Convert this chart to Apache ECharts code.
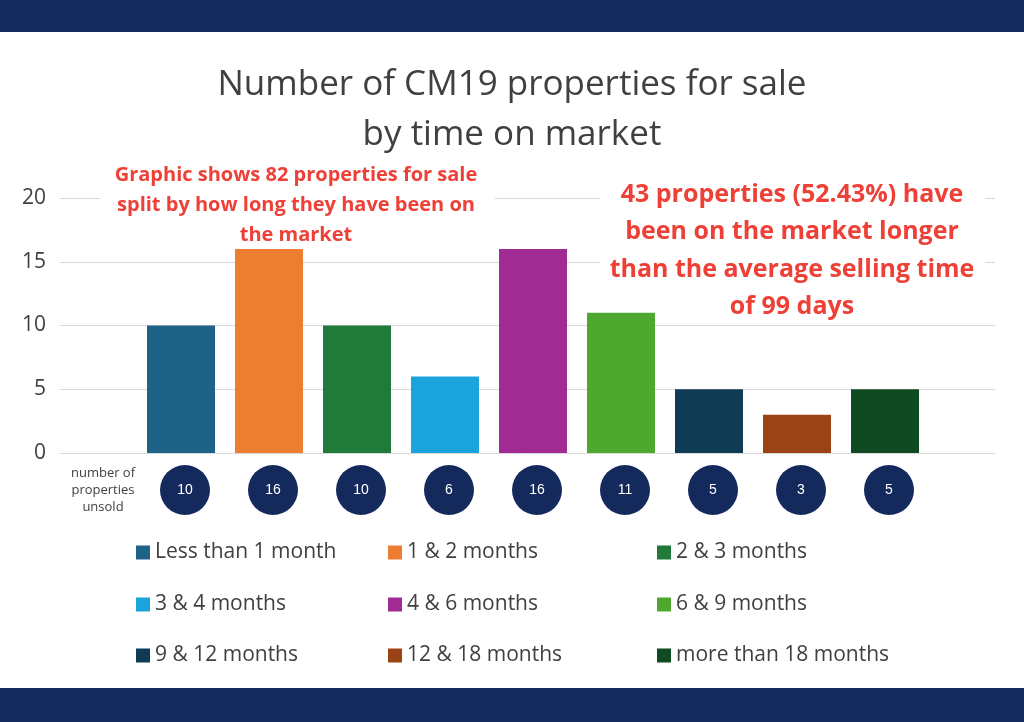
<!DOCTYPE html>
<html><head><meta charset="utf-8">
<script src="https://cdn.jsdelivr.net/npm/echarts@6/dist/echarts.min.js"></script>
<style>html,body{margin:0;padding:0;background:#fff}#main{width:1024px;height:722px}</style>
</head><body><div id="main"></div>
<script>
var categories=['Less than 1 month','1 & 2 months','2 & 3 months','3 & 4 months','4 & 6 months','6 & 9 months','9 & 12 months','12 & 18 months','more than 18 months'];
var counts=[10,16,10,6,16,11,5,3,5];
var colors=['#1f6287','#ed7d31','#207a3a','#1ba3dc','#a02b93','#4ea72e','#0f3b55','#9a4315','#104a22'];
var yTicks=[0,5,10,15,20];
var navy='#152a5c';
var legendPos=[[131,537],[383,537],[652,537],[131,589],[383,589],[652,589],[131,640],[383,640],[652,640]];

var chart=echarts.init(document.getElementById('main'));
var series=[{type:'line',xAxisIndex:0,yAxisIndex:0,data:[],silent:true}];
var legends=[];
categories.forEach(function(c,i){
  var d=categories.map(function(_,j){return j===i?counts[i]:'-';});
  series.push({name:c,type:'bar',xAxisIndex:1,yAxisIndex:1,barWidth:68,barGap:'-100%',
    itemStyle:{color:colors[i]},data:d});
  legends.push({data:[c],left:legendPos[i][0],top:legendPos[i][1],itemWidth:14,itemHeight:14,icon:'rect',
    textStyle:{fontSize:21,color:'#404040',fontFamily:'Open Sans'},itemGap:8});
});
series.push({type:'scatter',xAxisIndex:2,yAxisIndex:2,symbolSize:50,itemStyle:{color:navy,opacity:1},
  label:{show:true,position:'inside',color:'#fff',fontSize:14,formatter:function(p){return counts[p.dataIndex];}},
  data:categories.map(function(c){return [c,0];})});

chart.setOption({
  animation:false,
  legend:legends,
  grid:[{left:60,right:29,top:198,height:255},{left:137,right:95,top:198,height:255},{left:141,right:91,top:465,height:50}],
  xAxis:[
    {type:'category',gridIndex:0,data:['a'],show:false},
    {type:'category',gridIndex:1,data:categories,show:false},
    {type:'category',gridIndex:2,data:categories,show:false}
  ],
  yAxis:[
    {type:'value',gridIndex:0,min:0,max:20,interval:5,axisLine:{show:false},axisTick:{show:false},
     axisLabel:{fontSize:21,color:'#404040',margin:14,fontFamily:'Open Sans'},splitLine:{lineStyle:{color:'#d9d9d9'}}},
    {type:'value',gridIndex:1,min:0,max:20,interval:5,show:false},
    {type:'value',gridIndex:2,min:-1,max:1,show:false}
  ],
  series:series,
  graphic:[
    {type:'rect',left:0,top:0,shape:{width:1024,height:32},style:{fill:navy}},
    {type:'rect',left:0,top:688,shape:{width:1024,height:34},style:{fill:navy}},
    {type:'text',x:512,y:110,style:{text:'Number of CM19 properties for sale\nby time on market',align:'center',verticalAlign:'middle',
      font:'35px "Open Sans"',fill:'#404040',lineHeight:50}},
    {type:'rect',z:50,shape:{x:100,y:160,width:395,height:85},style:{fill:'#fff'}},
    {type:'text',z:51,x:296,y:205,style:{text:'Graphic shows 82 properties for sale\nsplit by how long they have been on\nthe market',align:'center',verticalAlign:'middle',
      font:'bold 20px "Open Sans"',fill:'#ee4036',lineHeight:30}},
    {type:'rect',z:50,shape:{x:600,y:175,width:385,height:134},style:{fill:'#fff'}},
    {type:'text',z:51,x:792,y:251,style:{text:'43 properties (52.43%) have\nbeen on the market longer\nthan the average selling time\nof 99 days',align:'center',verticalAlign:'middle',
      font:'bold 25px "Open Sans"',fill:'#ee4036',lineHeight:37.5}},
    {type:'text',x:103,y:490,style:{text:'number of\nproperties\nunsold',align:'center',verticalAlign:'middle',font:'13px "Open Sans"',fill:'#404040',lineHeight:17}}
  ]
});
</script></body></html>
